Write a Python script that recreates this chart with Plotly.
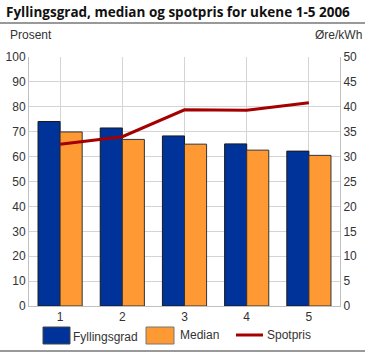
import plotly.graph_objects as go

weeks = ["1", "2", "3", "4", "5"]
fyllingsgrad = [74.1, 71.5, 68.3, 65.1, 62.2]
median = [69.9, 66.9, 65.0, 62.6, 60.5]
spotpris = [32.5, 34.0, 39.4, 39.3, 40.8]

left_ticks = list(range(0, 101, 10))
right_ticks = list(range(0, 51, 5))

BLUE = "#003399"
ORANGE = "#FF9933"
RED = "#A50000"
FONT = "Liberation Sans"
TXT = "#333333"

fig = go.Figure()
fig.add_trace(go.Bar(x=weeks, y=fyllingsgrad, name="Fyllingsgrad", marker=dict(color=BLUE, line=dict(color="#1a1a1a", width=1)), showlegend=False))
fig.add_trace(go.Bar(x=weeks, y=median, name="Median", marker=dict(color=ORANGE, line=dict(color="#333333", width=1)), showlegend=False))
fig.add_trace(go.Scatter(x=weeks, y=spotpris, name="Spotpris", mode="lines", line=dict(color=RED, width=3), yaxis="y2", showlegend=False))

fig.update_layout(
    width=365, height=354,
    margin=dict(l=29, r=25, t=57, b=48),
    paper_bgcolor="white", plot_bgcolor="white",
    font=dict(family=FONT, size=12, color=TXT),
    barmode="group", bargap=0.29, bargroupgap=0,
    xaxis=dict(showgrid=True, gridcolor="#d4d4d4", gridwidth=1, showline=True, linecolor="#c0c0c0",
               ticks="", tickfont=dict(size=12), range=[-0.5, 4.5], automargin=False),
    yaxis=dict(range=[0, 100], tickvals=left_ticks, showgrid=True, gridcolor="#d4d4d4", gridwidth=1,
               showline=True, linecolor="#c0c0c0", ticks="", zeroline=False, tickfont=dict(size=12),
               automargin=False),
    yaxis2=dict(range=[0, 50], tickvals=right_ticks, overlaying="y", side="right", showgrid=False,
                showline=True, linecolor="#c0c0c0", ticks="", zeroline=False, tickfont=dict(size=12),
                automargin=False),
)

W = 365.0 - 29 - 25
H = 354.0 - 57 - 48

def px(x):
    return (x - 29) / W

def py(y):
    return (306 - y) / H

fig.add_annotation(text="<b>Fyllingsgrad, median og spotpris for ukene 1-5 2006</b>", xref="paper", yref="paper",
                   x=px(4), y=py(12), xanchor="left", yanchor="middle", showarrow=False,
                   font=dict(size=13.5, family="Open Sans", color="#111111"))
fig.add_shape(type="line", xref="paper", yref="paper", x0=px(0), x1=px(365),
              y0=py(23), y1=py(23), line=dict(color="#999999", width=2))
fig.add_shape(type="line", xref="paper", yref="paper", x0=px(0), x1=px(365),
              y0=py(351), y1=py(351), line=dict(color="#999999", width=2))
fig.add_annotation(text="Prosent", xref="paper", yref="paper", x=px(8), y=py(35),
                   xanchor="left", yanchor="middle", showarrow=False, font=dict(size=12))
fig.add_annotation(text="Øre/kWh", xref="paper", yref="paper", x=px(364), y=py(35),
                   xanchor="right", yanchor="middle", showarrow=False, font=dict(size=12))

# Custom legend
fig.add_shape(type="rect", xref="paper", yref="paper", x0=px(43), x1=px(70), y0=py(344), y1=py(327),
              fillcolor=BLUE, line=dict(color="#444444", width=1))
fig.add_annotation(text="Fyllingsgrad", xref="paper", yref="paper", x=px(71), y=py(337), xanchor="left",
                   yanchor="middle", showarrow=False, font=dict(size=12))
fig.add_shape(type="rect", xref="paper", yref="paper", x0=px(146), x1=px(174), y0=py(344), y1=py(327),
              fillcolor=ORANGE, line=dict(color="#777777", width=1))
fig.add_annotation(text="Median", xref="paper", yref="paper", x=px(178), y=py(335), xanchor="left",
                   yanchor="middle", showarrow=False, font=dict(size=12))
fig.add_shape(type="line", xref="paper", yref="paper", x0=px(236), x1=px(263), y0=py(335), y1=py(335),
              line=dict(color=RED, width=3))
fig.add_annotation(text="Spotpris", xref="paper", yref="paper", x=px(265), y=py(335), xanchor="left",
                   yanchor="middle", showarrow=False, font=dict(size=12))

fig.write_html("out.html")
